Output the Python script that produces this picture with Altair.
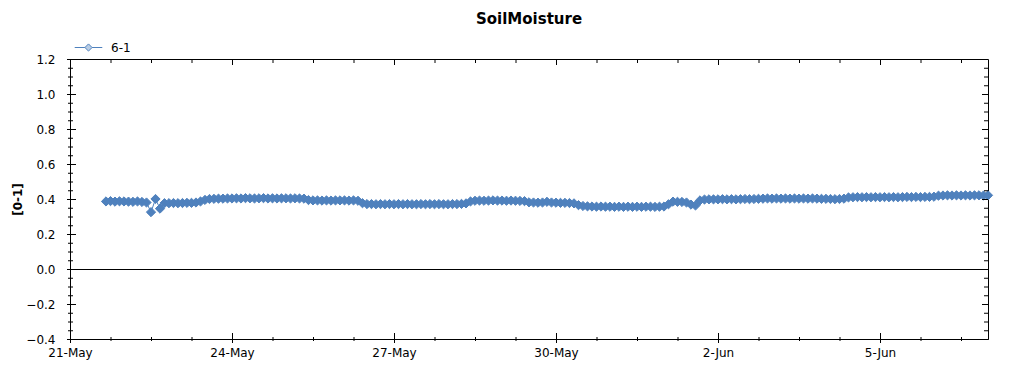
import altair as alt
import pandas as pd

# ---- data (2-hourly readings) ----
series_name = "6-1"
start_time = "2024-05-21T16:00:00Z"
step_hours = 2
day0 = [0.386, 0.388, 0.385, 0.387]
day1 = [0.386, 0.385, 0.384, 0.386, 0.383, 0.380, 0.325, 0.400, 0.345, 0.376, 0.376, 0.377]
day2 = [0.376, 0.377, 0.378, 0.378, 0.380, 0.386, 0.395, 0.400, 0.401, 0.402, 0.402, 0.403]
day3 = [0.403, 0.404, 0.403, 0.405, 0.404, 0.403, 0.404, 0.405, 0.403, 0.404, 0.403, 0.404]
day4 = [0.404, 0.403, 0.404, 0.403, 0.402, 0.394, 0.392, 0.392, 0.391, 0.392, 0.391, 0.392]
day5 = [0.392, 0.392, 0.391, 0.392, 0.390, 0.376, 0.371, 0.371, 0.370, 0.371, 0.370, 0.371]
day6 = [0.370, 0.371, 0.370, 0.371, 0.370, 0.370, 0.371, 0.370, 0.371, 0.370, 0.371, 0.370]
day7 = [0.370, 0.371, 0.371, 0.372, 0.375, 0.386, 0.390, 0.391, 0.390, 0.391, 0.392, 0.391]
day8 = [0.391, 0.390, 0.391, 0.390, 0.389, 0.388, 0.381, 0.380, 0.379, 0.380, 0.384, 0.380]
day9 = [0.379, 0.378, 0.378, 0.377, 0.375, 0.365, 0.360, 0.358, 0.357, 0.356, 0.357, 0.356]
day10 = [0.356, 0.355, 0.356, 0.355, 0.356, 0.355, 0.356, 0.355, 0.356, 0.356, 0.355, 0.356]
day11 = [0.357, 0.370, 0.385, 0.384, 0.383, 0.380, 0.368, 0.363, 0.392, 0.397, 0.398, 0.398]
day12 = [0.398, 0.399, 0.398, 0.399, 0.398, 0.399, 0.400, 0.399, 0.400, 0.401, 0.402, 0.403]
day13 = [0.402, 0.403, 0.402, 0.403, 0.402, 0.403, 0.402, 0.403, 0.402, 0.403, 0.402, 0.401]
day14 = [0.401, 0.400, 0.399, 0.400, 0.402, 0.409, 0.410, 0.411, 0.410, 0.411, 0.410, 0.411]
day15 = [0.410, 0.411, 0.410, 0.411, 0.410, 0.411, 0.412, 0.411, 0.412, 0.411, 0.412, 0.412]
day16 = [0.413, 0.419, 0.420, 0.421, 0.420, 0.421, 0.420, 0.421, 0.420, 0.421, 0.421, 0.420]
day17 = [0.421]

x_start = "2024-05-21T00:00:00Z"
x_end = "2024-06-07T00:00:00Z"
y_major = [-0.4, -0.2, 0.0, 0.2, 0.4, 0.6, 0.8, 1.0, 1.2]
x_major_labels = ["21-May", "24-May", "27-May", "30-May", "2-Jun", "5-Jun"]

values = (day0 + day1 + day2 + day3 + day4 + day5 + day6 + day7 + day8 + day9
          + day10 + day11 + day12 + day13 + day14 + day15 + day16 + day17)
times = pd.date_range(pd.Timestamp(start_time), periods=len(values), freq=f"{step_hours}h")
df = pd.DataFrame({"t": times.strftime("%Y-%m-%dT%H:%M:%SZ"), "v": values, "series": series_name})

# tick positions (axis decoration)
x_minor = pd.date_range(pd.Timestamp(x_start), pd.Timestamp(x_end), freq="18h")
x_major = pd.date_range(pd.Timestamp(x_start), pd.Timestamp(x_end), freq="72h")
xmin_df = pd.DataFrame({"t": x_minor.strftime("%Y-%m-%dT%H:%M:%SZ")})
xmaj_df = pd.DataFrame({"t": x_major.strftime("%Y-%m-%dT%H:%M:%SZ")})
ymin_df = pd.DataFrame({"v": [round(-0.4 + 0.05 * i, 2) for i in range(33)]})
ymaj_df = pd.DataFrame({"v": y_major})

W, H = 918, 280
BLUE = "#4F81BD"
LIGHT = "#B9CDE5"
FONT = "DejaVu Sans"

xscale = alt.Scale(type="utc", domain=[x_start, x_end], nice=False)
yscale = alt.Scale(domain=[-0.4, 1.2], nice=False, zero=False)

x_axis = alt.Axis(
    values=[alt.DateTime(year=d.year, month=d.month, date=d.day, utc=True) for d in x_major],
    format="%-d-%b", ticks=False, tickSize=0, grid=False, labelPadding=8,
    labelAlign="center", labelBaseline="top", labelFlush=False, labelOverlap=False,
    domainColor="black", labelColor="black", labelFont=FONT, labelFontSize=12, title=None,
)
y_axis = alt.Axis(
    values=y_major, format=".1f", ticks=False, tickSize=0, grid=False, labelPadding=15,
    labelFlush=False, labelOverlap=False,
    domainColor="black", labelColor="black", labelFont=FONT, labelFontSize=12,
    title="[0-1]", titleFont=FONT, titleFontSize=12, titleFontWeight="bold",
    titleColor="black", titlePadding=1,
)

legend = alt.Legend(
    orient="none", legendX=4, legendY=-26, title=None, padding=0,
    symbolType="M-1,0L-0.26,0M0.26,0L1,0M-0.26,0L0,-0.26L0.26,0L0,0.26Z",
    symbolSize=760, symbolFillColor=LIGHT, symbolStrokeColor=BLUE, symbolStrokeWidth=1,
    labelFont=FONT, labelFontSize=12, labelColor="black", labelOffset=8,
)

X = alt.X("t:T", scale=xscale, axis=x_axis)
Y = alt.Y("v:Q", scale=yscale, axis=y_axis)

line = alt.Chart(df).mark_line(strokeWidth=1).encode(
    x=X, y=Y,
    color=alt.Color("series:N", scale=alt.Scale(range=[BLUE]), legend=legend),
)
points = alt.Chart(df).mark_point(
    shape="diamond", filled=True, fill=BLUE, stroke=BLUE, strokeWidth=1, size=85, opacity=1
).encode(x=X, y=Y)
zero = alt.Chart(pd.DataFrame({"v": [0.0]})).mark_rule(
    color="black", strokeWidth=1, yOffset=0.5
).encode(y=Y)

def xticks(data, y1, y2):
    return alt.Chart(data).mark_rule(color="black", strokeWidth=1, xOffset=0.5).encode(
        x=X, y=alt.value(y1), y2=alt.value(y2))

def yticks(data, x1, x2):
    return alt.Chart(data).mark_rule(color="black", strokeWidth=1, yOffset=0.5).encode(
        y=Y, x=alt.value(x1), x2=alt.value(x2))

ticks = [
    xticks(xmin_df, H - 2, H + 2), xticks(xmaj_df, H - 6, H + 4),
    xticks(xmin_df, 0, 4), xticks(xmaj_df, 0, 6),
    yticks(ymin_df, -2, 3), yticks(ymaj_df, -3, 6),
    yticks(ymin_df, W - 4, W), yticks(ymaj_df, W - 6, W),
]

chart = alt.layer(line, points, zero, *ticks).properties(
    width=W, height=H,
    autosize=alt.AutoSizeParams(type="none"),
    padding={"left": 62, "top": 51, "right": 20, "bottom": 24},
    title=alt.TitleParams("SoilMoisture", font=FONT, fontSize=15, fontWeight="bold",
                          anchor="middle", color="black", offset=6),
    background="white",
).configure_view(stroke="black", strokeWidth=1)

chart.save("out.html", embed_options={"renderer": "svg", "actions": False})
